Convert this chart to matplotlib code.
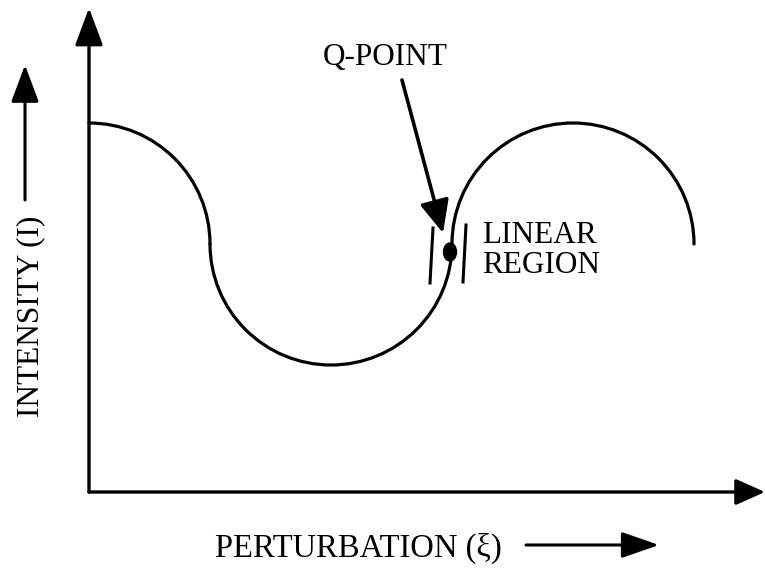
import matplotlib.pyplot as plt
from matplotlib.patches import Arc, Ellipse

# schematic intensity curve built from circular arcs (centre x, centre y, radius, start/end angle)
arc_cx = [0, 242, 484]
arc_cy = [248, 248, 248]
arc_r = [121, 121, 121]
arc_t1 = [0, 180, 0]
arc_t2 = [90, 360, 180]

# Q-point and the linear-region bars
q_point = (361, 240)
bar_left = ([344, 341], [264, 209])
bar_right = ([377, 374], [267, 210])
q_arrow_start = (313, 412)

x_max, y_max = 676, 484

plt.rcParams['font.family'] = ['Liberation Serif', 'DejaVu Serif']

fig = plt.figure(figsize=(7.65, 5.69), dpi=100)
ax = fig.add_axes([0, 0, 1, 1])
ax.set_xlim(-89, 676)
ax.set_ylim(-77, 492)
ax.axis('off')

lw_axis = 2.4
lw_curve = 2.3

# axes with arrow heads
ax.annotate('', xy=(0, y_max), xytext=(0, 0),
            arrowprops=dict(arrowstyle='-|>,head_length=1.15,head_width=0.43',
                            mutation_scale=20, lw=lw_axis, color='black',
                            shrinkA=0, shrinkB=0))
ax.annotate('', xy=(x_max, 0), xytext=(0, 0),
            arrowprops=dict(arrowstyle='-|>,head_length=0.9,head_width=0.4',
                            mutation_scale=20, lw=lw_axis, color='black',
                            shrinkA=0, shrinkB=0))

for cx, cy, r, t1, t2 in zip(arc_cx, arc_cy, arc_r, arc_t1, arc_t2):
    ax.add_patch(Arc((cx, cy), 2 * r, 2 * r, theta1=t1, theta2=t2,
                     lw=lw_curve, color='black', capstyle='round'))

# Q-point marker and linear region
ax.add_patch(Ellipse(q_point, 13, 18, color='black'))
ax.plot(*bar_left, color='black', lw=2.2)
ax.plot(*bar_right, color='black', lw=2.2)

ax.annotate('', xy=(354, 259), xytext=q_arrow_start,
            arrowprops=dict(arrowstyle='-|>,head_length=1.0,head_width=0.45',
                            mutation_scale=20, lw=2.6, color='black',
                            shrinkA=0, shrinkB=0))

fs = 22.5
ax.text(234, 427, 'Q-POINT', fontsize=fs, ha='left', va='baseline')
ax.text(393, 249, 'LINEAR', fontsize=fs, ha='left', va='baseline')
ax.text(393, 219, 'REGION', fontsize=fs, ha='left', va='baseline')

# axis labels with their own arrows
ax.text(126, -65, 'PERTURBATION (\u03be)', fontsize=23.5, ha='left', va='baseline')
ax.annotate('', xy=(570, -53), xytext=(437, -53),
            arrowprops=dict(arrowstyle='-|>,head_length=1.15,head_width=0.4',
                            mutation_scale=20, lw=2.2, color='black',
                            shrinkA=0, shrinkB=0))

ax.text(-51, 75, 'INTENSITY (I)', fontsize=fs, rotation=90,
        rotation_mode='anchor', ha='left', va='baseline')
ax.annotate('', xy=(-64, 427), xytext=(-64, 292),
            arrowprops=dict(arrowstyle='-|>,head_length=1.15,head_width=0.43',
                            mutation_scale=20, lw=2.2, color='black',
                            shrinkA=0, shrinkB=0))

plt.savefig('out.png', dpi=100)
plt.close()
